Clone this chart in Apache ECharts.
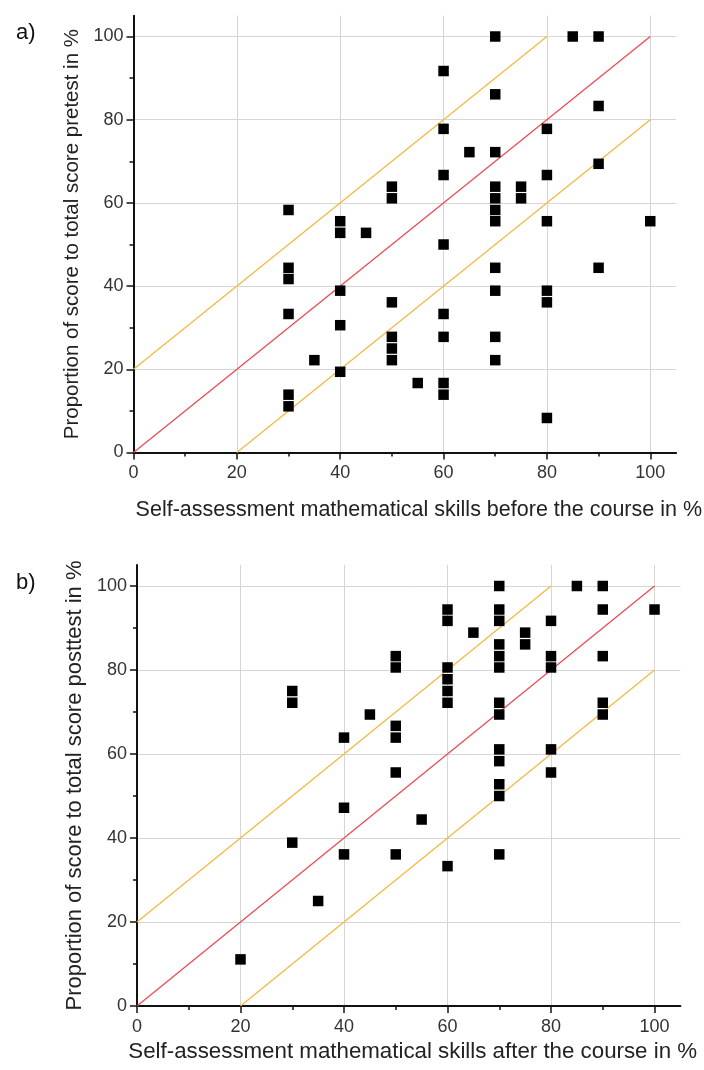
<!DOCTYPE html>
<html><head><meta charset="utf-8">
<script src="https://cdn.jsdelivr.net/npm/echarts@6/dist/echarts.min.js"></script>
<style>html,body{margin:0;padding:0;background:#fff}#c{width:704px;height:1070px}</style>
</head><body><div id="c"></div>
<script>
// ---- data ----
const majorTicks = [0, 20, 40, 60, 80, 100];
const minorTicks = [10, 30, 50, 70, 90];

const preX = [30,30,30,30,30,30, 35, 40,40,40,40,40, 45, 50,50,50,50,50,50, 55,
  60,60,60,60,60,60,60,60, 65, 70,70,70,70,70,70,70,70,70,70,70, 75,75,
  80,80,80,80,80,80, 85, 90,90,90,90, 100];
const preY = [58.3,44.4,41.7,33.3,13.9,11.1, 22.2, 55.6,52.8,38.9,30.6,19.4, 52.8, 63.9,61.1,36.1,27.8,25.0,22.2, 16.7,
  91.7,77.8,66.7,50.0,33.3,27.8,16.7,13.9, 72.2, 100,86.1,72.2,63.9,61.1,58.3,55.6,44.4,38.9,27.8,22.2, 63.9,61.1,
  77.8,66.7,55.6,38.9,36.1,8.3, 100, 100,83.3,69.4,44.4, 55.6];

const postX = [20, 30,30,30, 35, 40,40,40, 45, 50,50,50,50,50,50, 55,
  60,60,60,60,60,60,60, 65, 70,70,70,70,70,70,70,70,70,70,70,70,70, 75,75,
  80,80,80,80,80, 85, 90,90,90,90,90, 100];
const postY = [11.1, 75.0,72.2,38.9, 25.0, 63.9,47.2,36.1, 69.4, 83.3,80.6,66.7,63.9,55.6,36.1, 44.4,
  94.4,91.7,80.6,77.8,75.0,72.2,33.3, 88.9, 100,94.4,91.7,86.1,83.3,80.6,72.2,69.4,61.1,58.3,52.8,50.0,36.1, 88.9,86.1,
  91.7,83.3,80.6,61.1,55.6, 100, 100,94.4,83.3,72.2,69.4, 94.4];

const diagLine = [[0, 0], [100, 100]];
const upperLine = [[0, 20], [80, 100]];
const lowerLine = [[20, 0], [100, 80]];

const panelLabels = ['a)', 'b)'];
const xNames = ['Self-assessment mathematical skills before the course in %',
                'Self-assessment mathematical skills after the course in %'];
const yNames = ['Proportion of score to total score pretest in %',
                'Proportion of score to total score posttest in %'];

// ---- styling ----
const F = '"Liberation Sans", Arial, Helvetica, sans-serif';
const RED = '#ec4b55';
const ORANGE = '#f4b844';
const AXIS_MIN = 0, AXIS_MAX = 105;

function zip(xs, ys) { return xs.map((x, i) => [x, ys[i]]); }

const grids = [
  { left: 133.5, right: 26.5, top: 15.7, bottom: 617.5 },
  { left: 137, right: 23.6, top: 565, bottom: 64 }
];
const panelStyle = [
  { xNameSize: 21.5, yNameSize: 20.5, xNameGap: 47, yNameGap: 42, xNamePad: [0, 0, 0, 28], labelTop: 22 },
  { xNameSize: 22.3, yNameSize: 22, xNameGap: 35, yNameGap: 45, xNamePad: [0, 0, 0, 8], labelTop: 572 }
];

const xAxes = [], yAxes = [], series = [];
grids.forEach((g, gi) => {
  const ps = panelStyle[gi];
  const common = {
    type: 'value', gridIndex: gi, min: AXIS_MIN, max: AXIS_MAX,
    nameLocation: 'middle',
    axisLine: { show: true, onZero: false, lineStyle: { color: '#111', width: 2 } },
    axisTick: { show: true, inside: false, length: 7, customValues: majorTicks, lineStyle: { color: '#111', width: 1.5 } },
    axisLabel: { customValues: majorTicks, fontFamily: F, fontSize: 18, color: '#333' },
    splitLine: { show: true, lineStyle: { color: '#d6d6d6', width: 1 } },
    minorTick: { show: false }
  };
  xAxes.push(Object.assign({}, common, {
    position: 'bottom', name: xNames[gi], nameGap: ps.xNameGap,
    nameTextStyle: { fontFamily: F, fontSize: ps.xNameSize, color: '#222', padding: ps.xNamePad },
    axisLabel: Object.assign({}, common.axisLabel, { margin: 12 })
  }));
  yAxes.push(Object.assign({}, common, {
    position: 'left', name: yNames[gi], nameGap: ps.yNameGap, nameRotate: 90,
    nameTextStyle: { fontFamily: F, fontSize: ps.yNameSize, color: '#222' },
    axisLabel: Object.assign({}, common.axisLabel, { margin: 10 })
  }));
  const minor = {
    type: 'value', gridIndex: gi, min: AXIS_MIN, max: AXIS_MAX,
    axisLine: { show: false },
    axisTick: { show: true, inside: false, length: 4, customValues: minorTicks, lineStyle: { color: '#111', width: 1.5 } },
    axisLabel: { show: false },
    splitLine: { show: false }
  };
  xAxes.push(Object.assign({}, minor, { position: 'bottom' }));
  yAxes.push(Object.assign({}, minor, { position: 'left' }));
});

[[preX, preY], [postX, postY]].forEach((d, gi) => {
  const ax = gi * 2;
  [[diagLine, RED], [upperLine, ORANGE], [lowerLine, ORANGE]].forEach(([ln, col]) => {
    series.push({
      type: 'line', xAxisIndex: ax, yAxisIndex: ax, data: ln, symbol: 'none',
      lineStyle: { color: col, width: 1.3 }, silent: true, z: 2, animation: false
    });
  });
  series.push({
    type: 'scatter', xAxisIndex: ax, yAxisIndex: ax, data: zip(d[0], d[1]),
    symbol: 'rect', symbolSize: 10.5,
    itemStyle: { color: '#000', opacity: 1 },
    z: 3, animation: false
  });
});

const chart = echarts.init(document.getElementById('c'), null, { renderer: 'canvas' });
chart.setOption({
  backgroundColor: '#fff',
  animation: false,
  grid: grids,
  xAxis: xAxes,
  yAxis: yAxes,
  series: series,
  graphic: panelLabels.map((t, i) => ({
    type: 'text', left: 16, top: panelStyle[i].labelTop,
    style: { text: t, font: '22px ' + F, fill: '#111' }
  }))
});
</script>
</body></html>
